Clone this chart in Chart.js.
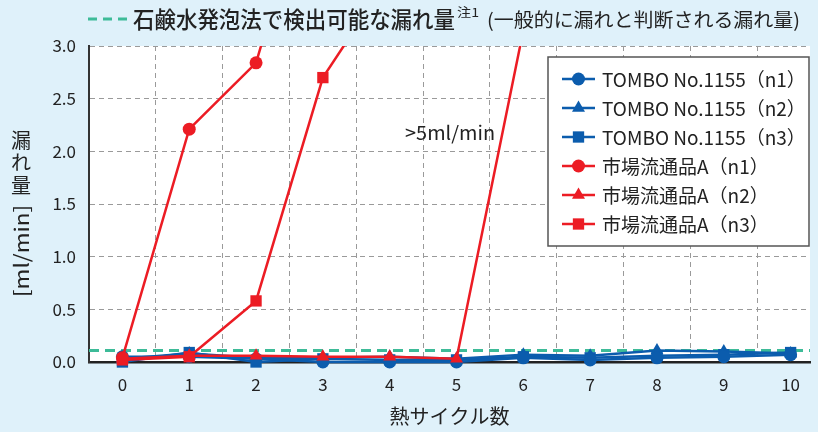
<!DOCTYPE html>
<html>
<head>
<meta charset="utf-8">
<script src="https://cdn.jsdelivr.net/npm/chart.js@4.4.0/dist/chart.umd.min.js"></script>
<style>
  html, body { margin: 0; padding: 0; background: #dff1fa; }
  #wrap { width: 818px; height: 432px; }
</style>
</head>
<body>
<div id="wrap"><canvas id="chart" width="818" height="432"></canvas></div>
<script>
const cycles = [0, 1, 2, 3, 4, 5, 6, 7, 8, 9, 10];
const yTicks = [0, 0.5, 1.0, 1.5, 2.0, 2.5, 3.0];

const tomboN1 = [0.05, 0.05, 0.03, 0.00, 0.00, 0.00, 0.04, 0.02, 0.04, 0.05, 0.07];
const tomboN2 = [0.03, 0.08, 0.04, 0.04, 0.05, 0.03, 0.07, 0.06, 0.11, 0.10, 0.08];
const tomboN3 = [0.00, 0.09, 0.00, 0.03, 0.02, 0.02, 0.05, 0.04, 0.06, 0.07, 0.09];
const marketN1 = [0.04, 2.21, 2.84, 5.00];
const marketN2 = [0.03, 0.06, 0.06, 0.05, 0.05, 0.03, 3.15];
const marketN3 = [0.02, 0.05, 0.58, 2.70, 3.66];
const detectLimit = 0.11;

const BLUE = '#0b5cad';
const RED = '#ec1c24';
const GREEN = '#3dbb98';
const FONT = '"Noto Sans CJK JP", "Noto Sans", sans-serif';
const X_MAX = 10.29;

function pts(values) {
  return values.map((v, i) => ({ x: cycles[i], y: v }));
}

function series(label, values, color, style, radius) {
  return {
    label: label,
    data: pts(values),
    borderColor: color,
    backgroundColor: color,
    borderWidth: 2.5,
    pointStyle: style,
    pointRadius: radius,
    pointHoverRadius: radius,
    pointBorderWidth: 0,
    tension: 0,
    order: color === RED ? 1 : 2,
    clip: { left: 10, right: 10, top: 0, bottom: 10 }
  };
}

const datasets = [
  series('TOMBO No.1155（n1）', tomboN1, BLUE, 'circle', 6.5),
  series('TOMBO No.1155（n2）', tomboN2, BLUE, 'triangle', 7.5),
  series('TOMBO No.1155（n3）', tomboN3, BLUE, 'rect', 8),
  series('市場流通品A（n1）', marketN1, RED, 'circle', 6.5),
  series('市場流通品A（n2）', marketN2, RED, 'triangle', 7.5),
  series('市場流通品A（n3）', marketN3, RED, 'rect', 8),
  {
    label: 'limit',
    data: [{ x: -0.5, y: detectLimit }, { x: X_MAX, y: detectLimit }],
    borderColor: GREEN,
    borderWidth: 3,
    borderDash: [10, 6],
    pointRadius: 0,
    order: 3
  }
];

// draw text squeezed/stretched horizontally to a given width
function fitText(ctx, text, x, y, width) {
  const w = ctx.measureText(text).width;
  ctx.save();
  ctx.translate(x, y);
  ctx.scale(width / w, 1);
  ctx.fillText(text, 0, 0);
  ctx.restore();
}

const decor = {
  id: 'decor',
  beforeDraw(chart) {
    const { ctx, chartArea: a } = chart;
    ctx.save();
    ctx.fillStyle = '#dff1fa';
    ctx.fillRect(0, 0, chart.width, chart.height);
    ctx.fillStyle = '#ffffff';
    ctx.fillRect(a.left, a.top, a.right - a.left, a.bottom - a.top);
    ctx.restore();
  },
  afterDraw(chart) {
    const { ctx } = chart;
    const xs = chart.scales.x, ys = chart.scales.y;
    ctx.save();

    // top note
    ctx.strokeStyle = GREEN;
    ctx.lineWidth = 3;
    ctx.setLineDash([9, 6]);
    ctx.beginPath();
    ctx.moveTo(88, 19);
    ctx.lineTo(130, 19);
    ctx.stroke();
    ctx.setLineDash([]);
    ctx.fillStyle = '#222';
    ctx.textBaseline = 'middle';
    ctx.textAlign = 'left';
    ctx.font = '500 23px ' + FONT;
    fitText(ctx, '石鹸水発泡法で検出可能な漏れ量', 133, 19, 322);
    ctx.font = '12px ' + FONT;
    fitText(ctx, '注1', 457, 12, 22);
    ctx.font = '19px ' + FONT;
    fitText(ctx, '(一般的に漏れと判断される漏れ量)', 487, 20, 313);

    // y axis title
    ctx.font = '20px ' + FONT;
    ctx.textAlign = 'center';
    ['漏', 'れ', '量'].forEach((ch, i) => ctx.fillText(ch, 21, 140 + i * 22.5));
    ctx.translate(21, 251);
    ctx.rotate(-Math.PI / 2);
    ctx.font = '20px ' + FONT;
    ctx.textAlign = 'left';
    fitText(ctx, '[ml/min]', -46, 0, 92);
    ctx.setTransform(1, 0, 0, 1, 0, 0);

    // annotation
    ctx.font = '19px ' + FONT;
    ctx.textAlign = 'left';
    fitText(ctx, '>5ml/min', xs.getPixelForValue(4.23), ys.getPixelForValue(2.18), 90);

    // legend
    const lx = 548, ly = 57, lw = 261, lh = 189;
    ctx.fillStyle = '#ffffff';
    ctx.fillRect(lx, ly, lw, lh);
    ctx.strokeStyle = '#555';
    ctx.lineWidth = 1.5;
    ctx.strokeRect(lx, ly, lw, lh);
    chart.data.datasets.filter(d => d.label !== 'limit').forEach((d, i) => {
      const y = 79 + i * 29;
      ctx.strokeStyle = d.borderColor;
      ctx.fillStyle = d.backgroundColor;
      ctx.lineWidth = 2.5;
      ctx.beginPath();
      ctx.moveTo(562, y);
      ctx.lineTo(595, y);
      ctx.stroke();
      Chart.helpers.drawPoint(ctx, {
        pointStyle: d.pointStyle, radius: d.pointRadius, rotation: 0, borderWidth: 0
      }, 578.5, y);
      ctx.fillStyle = '#222';
      ctx.textAlign = 'left';
      ctx.font = '19px ' + FONT;
      ctx.fillText(d.label, 602, y + 1);
    });
    ctx.restore();
  }
};

new Chart(document.getElementById('chart'), {
  type: 'line',
  data: { datasets: datasets },
  plugins: [decor],
  options: {
    responsive: false,
    animation: false,
    layout: { padding: { top: 46, right: 0, left: 0, bottom: 0 } },
    plugins: { legend: { display: false }, tooltip: { enabled: false } },
    scales: {
      x: {
        type: 'linear',
        min: -0.5,
        max: X_MAX,
        afterBuildTicks(scale) {
          const t = [];
          for (let v = -0.5; v <= X_MAX; v += 0.5) t.push({ value: v });
          scale.ticks = t;
        },
        afterFit(scale) {
          scale.height = 70;
          scale.paddingLeft = 0;
          scale.paddingRight = 0;
        },
        grid: {
          drawTicks: false,
          color: c => (c.tick && c.tick.value % 1 !== 0 && c.tick.value > -0.5) ? '#9a9a9a' : 'rgba(0,0,0,0)',
          lineWidth: 1
        },
        border: { display: true, color: '#222', width: 2.5, dash: [5, 4] },
        ticks: {
          autoSkip: false,
          maxRotation: 0,
          padding: 12,
          color: '#222',
          font: { family: FONT, size: 17 },
          callback: v => (v % 1 === 0 ? String(v) : '')
        },
        title: { display: true, text: '熱サイクル数', color: '#222', font: { family: FONT, size: 20 }, padding: { top: 4 } }
      },
      y: {
        type: 'linear',
        min: 0,
        max: 3,
        afterBuildTicks(scale) { scale.ticks = yTicks.map(v => ({ value: v })); },
        afterFit(scale) { scale.width = 89; },
        grid: {
          drawTicks: false,
          color: c => (c.tick && c.tick.value > 0) ? '#9a9a9a' : 'rgba(0,0,0,0)',
          lineWidth: 1
        },
        border: { display: true, color: '#333', width: 2, dash: [5, 4] },
        ticks: {
          padding: 13,
          color: '#222',
          font: { family: FONT, size: 17 },
          callback: v => Number(v).toFixed(1)
        }
      }
    }
  }
});
</script>
</body>
</html>
